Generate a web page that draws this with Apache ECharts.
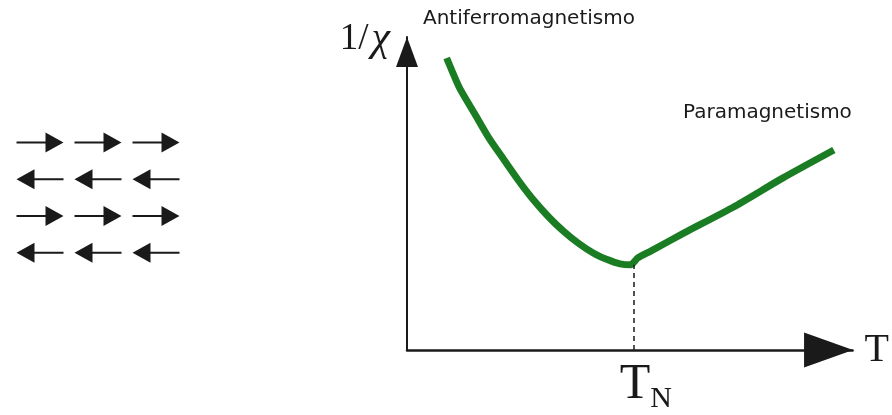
<!DOCTYPE html>
<html>
<head>
<meta charset="utf-8">
<script src="https://cdn.jsdelivr.net/npm/echarts@6/dist/echarts.min.js"></script>
<style>
  html, body { margin: 0; padding: 0; background: #fff; }
  #chart { width: 892px; height: 415px; }
</style>
</head>
<body>
<div id="chart"></div>
<script>
// curve (arbitrary units, T axis 0..100, 1/chi axis 0..100)
var temperature = [8.9, 11.8, 15.1, 18.4, 21.8, 25.1, 28.4, 31.8, 35.1, 38.4, 41.8, 45.1, 47.8, 50.2, 51.8, 54.7, 62.2, 73.3, 84.4, 95.8];
var invChi      = [93.3, 83.7, 75.7, 67.7, 60.7, 54.0, 47.9, 42.5, 38.0, 34.2, 31.0, 28.8, 27.5, 27.2, 29.4, 31.6, 37.4, 45.7, 55.0, 63.9];
var neelT = 50.9;
var neelInvChi = 27.2;

// spin sketch: column, row, direction (0 = right, 180 = left)
var spinCols = [0.5, 1.5, 2.5, 0.5, 1.5, 2.5, 0.5, 1.5, 2.5, 0.5, 1.5, 2.5];
var spinRows = [0.5, 0.5, 0.5, 1.5, 1.5, 1.5, 2.5, 2.5, 2.5, 3.5, 3.5, 3.5];
var spinDirs = [0, 0, 0, 180, 180, 180, 0, 0, 0, 180, 180, 180];

var curveData = temperature.map(function (t, i) { return [t, invChi[i]]; });
var spinData = spinCols.map(function (c, i) { return [c, spinRows[i], spinDirs[i]]; });

var ink = '#1a1a1a';
var arrowPath = 'path://M0,9L29,9L29,11L0,11Z M29,0L47,10L29,20Z';

var myChart = echarts.init(document.getElementById('chart'));

myChart.setOption({
  animation: false,
  backgroundColor: '#fff',
  grid: [
    { left: 407, top: 37, right: 35, bottom: 65 },
    { left: 11, top: 124, width: 174, height: 147 }
  ],
  xAxis: [
    {
      type: 'value', gridIndex: 0, min: 0, max: 100,
      name: 'T', nameLocation: 'end', nameGap: 12,
      nameTextStyle: { fontFamily: 'Liberation Serif', fontSize: 40, color: ink, verticalAlign: 'middle' },
      axisLine: {
        onZero: false,
        lineStyle: { color: ink, width: 2.5 },
        symbol: ['none', 'triangle'],
        symbolSize: [35, 49],
        symbolOffset: [0, -24]
      },
      axisTick: { show: false },
      axisLabel: { show: false },
      splitLine: { show: false }
    },
    { type: 'value', gridIndex: 1, min: 0, max: 3, show: false }
  ],
  yAxis: [
    {
      type: 'value', gridIndex: 0, min: 0, max: 100,
      name: '{a|1/}{b|χ}', nameLocation: 'end', nameGap: -2,
      nameTextStyle: {
        align: 'right', verticalAlign: 'middle', padding: [0, 17, 0, 0],
        rich: {
          a: { fontFamily: 'Liberation Serif', fontSize: 37, color: ink, padding: [0, 3, 0, 0] },
          b: { fontFamily: 'Liberation Serif', fontSize: 42, fontStyle: 'italic', color: ink }
        }
      },
      axisLine: {
        onZero: false,
        lineStyle: { color: ink, width: 2 },
        symbol: ['none', 'triangle'],
        symbolSize: [22, 30],
        symbolOffset: [0, -15]
      },
      axisTick: { show: false },
      axisLabel: { show: false },
      splitLine: { show: false }
    },
    { type: 'value', gridIndex: 1, min: 0, max: 4, inverse: true, show: false }
  ],
  graphic: [
    { type: 'text', left: 423, top: 9, style: { text: 'Antiferromagnetismo', font: '20px "DejaVu Sans"', fill: ink } },
    { type: 'text', left: 683, top: 103, style: { text: 'Paramagnetismo', font: '20px "DejaVu Sans"', fill: ink } }
  ],
  series: [
    {
      type: 'line',
      xAxisIndex: 0, yAxisIndex: 0,
      data: curveData,
      clip: false,
      smooth: 0.2,
      showSymbol: false,
      lineStyle: { color: '#1b7d23', width: 7 },
      markLine: {
        silent: true,
        symbol: 'none',
        lineStyle: { color: ink, type: [5, 4], width: 1.5 },
        label: {
          show: true,
          position: 'start',
          distance: 6,
          formatter: '{t|T}{n|N}',
          rich: {
            t: { fontFamily: 'Liberation Serif', fontSize: 50, color: ink, padding: [0, 0, 0, 24] },
            n: { fontFamily: 'Liberation Serif', fontSize: 30, color: ink, verticalAlign: 'bottom', padding: [28, 0, 0, 0] }
          }
        },
        data: [[{ coord: [neelT, 0] }, { coord: [neelT, neelInvChi] }]]
      }
    },
    {
      type: 'scatter',
      xAxisIndex: 1, yAxisIndex: 1,
      data: spinData,
      symbol: arrowPath,
      symbolSize: [47, 20],
      symbolRotate: function (v) { return v[2]; },
      itemStyle: { color: ink, opacity: 1 }
    }
  ]
});
</script>
</body>
</html>
